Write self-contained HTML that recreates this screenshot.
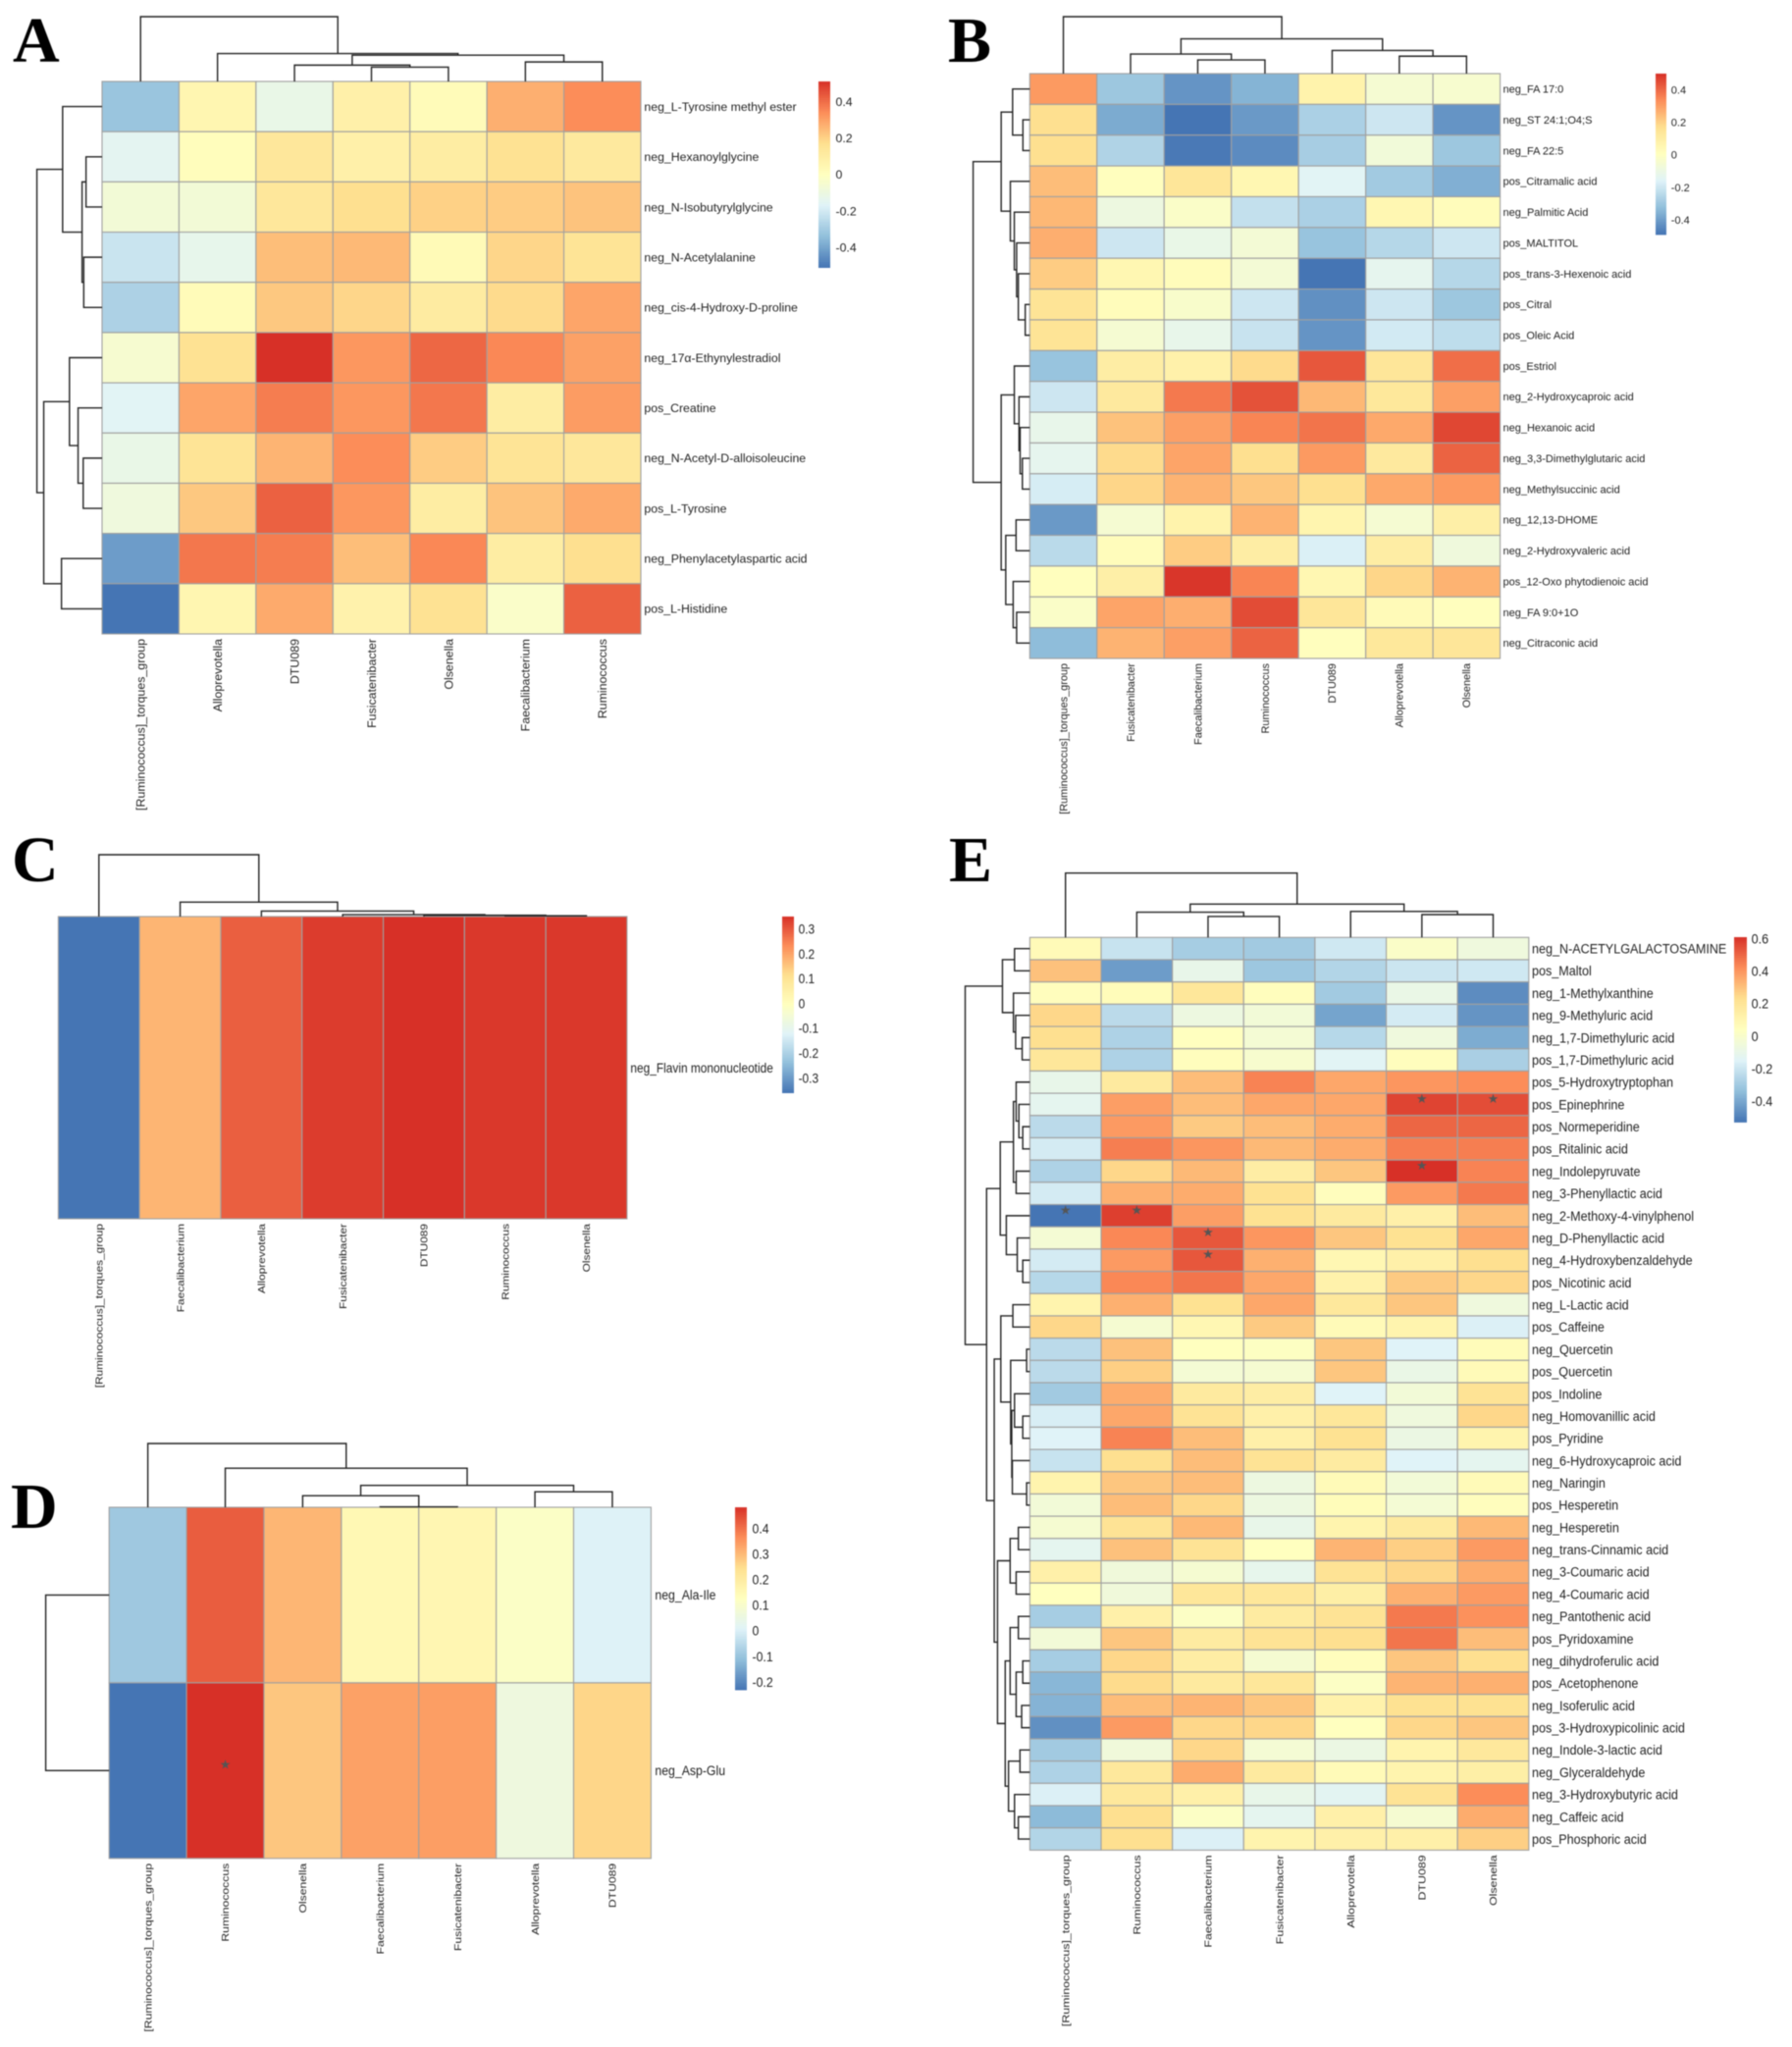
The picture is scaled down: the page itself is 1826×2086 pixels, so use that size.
<!DOCTYPE html>
<html lang="en">
<head>
<meta charset="utf-8">
<title>Clustered correlation heatmaps A-E</title>
<style>
html,body{margin:0;padding:0;background:#fff;}
svg{display:block;filter:blur(.45px);}
text{font-family:"Liberation Sans",Arial,sans-serif;fill:#222;}
.letter{font-family:"Liberation Serif","Times New Roman",serif;font-weight:bold;fill:#000;}
</style>
</head>
<body>
<svg id="figure" width="1826" height="2086" viewBox="0 0 1826 2086" xmlns="http://www.w3.org/2000/svg">
  <rect x="0" y="0" width="1826" height="2086" fill="#ffffff"/>
  <text class="letter" x="13" y="63" font-size="66">A</text>
  <text class="letter" x="966" y="63" font-size="66">B</text>
  <text class="letter" x="12" y="898" font-size="66">C</text>
  <text class="letter" x="11" y="1557" font-size="66">D</text>
  <text class="letter" x="967" y="898" font-size="66">E</text>
  <g id="panel-a"></g>
  <g id="panel-b"></g>
  <g id="panel-c"></g>
  <g id="panel-d"></g>
  <g id="panel-e"></g>
</svg>
<script>
/* ---------- Panel A data ---------- */
const aCols = ["[Ruminococcus]_torques_group","Alloprevotella","DTU089","Fusicatenibacter","Olsenella","Faecalibacterium","Ruminococcus"];
const aRows = ["neg_L-Tyrosine methyl ester","neg_Hexanoylglycine","neg_N-Isobutyrylglycine","neg_N-Acetylalanine","neg_cis-4-Hydroxy-D-proline","neg_17α-Ethynylestradiol","pos_Creatine","neg_N-Acetyl-D-alloisoleucine","pos_L-Tyrosine","neg_Phenylacetylaspartic acid","pos_L-Histidine"];
const aValues = [
  [-.32,.05,-.12,.08,.02,.27,.34],
  [-.15,.01,.13,.08,.10,.16,.12],
  [-.07,-.07,.13,.17,.20,.21,.23],
  [-.22,-.13,.24,.25,.03,.19,.15],
  [-.28,.02,.22,.19,.11,.18,.29],
  [-.05,.16,.51,.32,.41,.35,.30],
  [-.16,.29,.37,.32,.38,.10,.31],
  [-.12,.15,.26,.34,.21,.15,.13],
  [-.09,.22,.42,.32,.10,.23,.28],
  [-.42,.38,.37,.24,.35,.10,.17],
  [-.51,.05,.28,.07,.16,-.03,.42]
];
const aTicks = [.4,.2,0,-.2,-.4];
const aTickLabels = ["0.4","0.2","0","-0.2","-0.4"];
const aDomain = [-.51,.51];
const aColTree = [1,0,[.431,1,[.407,[.252,2,[.22,3,4]],[.301,5,6]]]];
const aRowTree = [1,[.605,0,[.307,[.246,1,2],[.281,3,4]]],[.895,[.5,5,[.368,6,[.289,7,8]]],[.623,9,10]]];
const aStars = [];

/* ---------- Panel B data ---------- */
const bCols = ["[Ruminococcus]_torques_group","Fusicatenibacter","Faecalibacterium","Ruminococcus","DTU089","Alloprevotella","Olsenella"];
const bRows = ["neg_FA 17:0","neg_ST 24:1;O4;S","neg_FA 22:5","pos_Citramalic acid","neg_Palmitic Acid","pos_MALTITOL","pos_trans-3-Hexenoic acid","pos_Citral","pos_Oleic Acid","pos_Estriol","neg_2-Hydroxycaproic acid","neg_Hexanoic acid","neg_3,3-Dimethylglutaric acid","neg_Methylsuccinic acid","neg_12,13-DHOME","neg_2-Hydroxyvaleric acid","pos_12-Oxo phytodienoic acid","neg_FA 9:0+1O","neg_Citraconic acid"];
const bValues = [
  [.31,-.30,-.42,-.35,.07,-.05,-.04],
  [.17,-.37,-.49,-.41,-.27,-.20,-.42],
  [.17,-.26,-.48,-.44,-.28,-.07,-.30],
  [.24,.01,.14,.05,-.15,-.29,-.36],
  [.25,-.09,-.02,-.22,-.27,.05,.02],
  [.27,-.20,-.11,-.06,-.31,-.25,-.20],
  [.21,.05,.02,-.06,-.49,-.13,-.25],
  [.15,.02,-.03,-.20,-.43,-.20,-.30],
  [.15,-.05,-.12,-.21,-.42,-.19,-.23],
  [-.31,.10,.08,.18,.43,.14,.39],
  [-.20,.12,.37,.44,.25,.13,.30],
  [-.12,.23,.30,.35,.38,.28,.46],
  [-.13,.18,.29,.17,.31,.12,.41],
  [-.18,.19,.26,.22,.17,.28,.31],
  [-.41,-.05,.07,.26,.06,-.05,.09],
  [-.24,.02,.21,.10,-.17,.10,-.08],
  [.01,.09,.49,.35,.05,.19,.26],
  [-.02,.29,.27,.45,.14,.03,.01],
  [-.33,.26,.30,.41,.01,.13,.14]
];
const bTicks = [.4,.2,0,-.2,-.4];
const bTickLabels = ["0.4","0.2","0","-0.2","-0.4"];
const bDomain = [-.49,.5];
const bColTree = [1,0,[.611,[.343,1,[.241,2,3]],[.407,4,[.306,5,6]]]];
const bRowTree = [1,[.505,[.303,0,[.121,1,2]],[.343,3,[.273,4,[.232,5,[.202,6,[.08,7,8]]]]]],[.505,[.273,9,[.19,10,[.17,11,[.13,12,13]]]],[.424,[.242,14,15],[.293,16,[.232,17,18]]]]];
const bStars = [];

/* ---------- Panel C data ---------- */
const cCols = ["[Ruminococcus]_torques_group","Faecalibacterium","Alloprevotella","Fusicatenibacter","DTU089","Ruminococcus","Olsenella"];
const cRows = ["neg_Flavin mononucleotide"];
const cValues = [
  [-.36,.175,.29,.335,.35,.34,.34]
];
const cTicks = [.3,.2,.1,0,-.1,-.2,-.3];
const cTickLabels = ["0.3","0.2","0.1","0","-0.1","-0.2","-0.3"];
const cDomain = [-.36,.35];
const cColTree = [1,0,[.233,1,[.088,2,[.03,3,[.02,4,[.012,5,6]]]]]];
const cRowTree = null;
const cStars = [];

/* ---------- Panel D data ---------- */
const dCols = ["[Ruminococcus]_torques_group","Ruminococcus","Olsenella","Faecalibacterium","Fusicatenibacter","Alloprevotella","DTU089"];
const dRows = ["neg_Ala-Ile","neg_Asp-Glu"];
const dValues = [
  [-.09,.425,.305,.155,.16,.112,.005],
  [-.23,.483,.283,.335,.34,.062,.26]
];
const dTicks = [.4,.3,.2,.1,0,-.1,-.2];
const dTickLabels = ["0.4","0.3","0.2","0.1","0","-0.1","-0.2"];
const dDomain = [-.23,.483];
const dColTree = [1,0,[.6125,1,[.344,[.181,2,[.006,3,4]],[.244,5,6]]]];
const dRowTree = [1,0,1];
const dStars = [[1,1]];

/* ---------- Panel E data ---------- */
const eCols = ["[Ruminococcus]_torques_group","Ruminococcus","Faecalibacterium","Fusicatenibacter","Alloprevotella","DTU089","Olsenella"];
const eRows = ["neg_N-ACETYLGALACTOSAMINE","pos_Maltol","neg_1-Methylxanthine","neg_9-Methyluric acid","neg_1,7-Dimethyluric acid","pos_1,7-Dimethyluric acid","pos_5-Hydroxytryptophan","pos_Epinephrine","pos_Normeperidine","pos_Ritalinic acid","neg_Indolepyruvate","neg_3-Phenyllactic acid","neg_2-Methoxy-4-vinylphenol","neg_D-Phenyllactic acid","neg_4-Hydroxybenzaldehyde","pos_Nicotinic acid","neg_L-Lactic acid","pos_Caffeine","neg_Quercetin","pos_Quercetin","pos_Indoline","neg_Homovanillic acid","pos_Pyridine","neg_6-Hydroxycaproic acid","neg_Naringin","pos_Hesperetin","neg_Hesperetin","neg_trans-Cinnamic acid","neg_3-Coumaric acid","neg_4-Coumaric acid","neg_Pantothenic acid","pos_Pyridoxamine","neg_dihydroferulic acid","pos_Acetophenone","neg_Isoferulic acid","pos_3-Hydroxypicolinic acid","neg_Indole-3-lactic acid","neg_Glyceraldehyde","neg_3-Hydroxybutyric acid","neg_Caffeic acid","pos_Phosphoric acid"];
const eValues = [
  [.07,-.21,-.29,-.30,-.19,.01,-.06],
  [.30,-.43,-.10,-.31,-.26,-.20,-.19],
  [.05,.06,.19,.05,-.30,-.09,-.47],
  [.25,-.24,-.07,-.04,-.41,-.18,-.45],
  [.23,-.27,.04,-.03,-.25,-.06,-.39],
  [.19,-.27,.05,-.01,-.14,.05,-.28],
  [-.10,.17,.31,.44,.36,.40,.42],
  [-.12,.38,.31,.36,.36,.57,.55],
  [-.24,.39,.28,.31,.35,.50,.50],
  [-.18,.45,.40,.32,.35,.45,.45],
  [-.27,.25,.32,.15,.29,.61,.44],
  [-.18,.34,.35,.22,.05,.39,.46],
  [-.53,.58,.38,.22,.17,.13,.31],
  [-.03,.43,.53,.40,.29,.22,.36],
  [-.18,.39,.53,.34,.09,.13,.23],
  [-.25,.43,.47,.36,.12,.28,.25],
  [.11,.34,.22,.36,.18,.29,-.06],
  [.25,-.02,.09,.28,.07,.11,-.16],
  [-.24,.30,.04,.03,.29,-.15,.06],
  [-.24,.27,-.03,-.02,.29,-.09,.07],
  [-.30,.35,.17,.15,-.15,-.04,.21],
  [-.17,.36,.21,.13,.19,-.06,.25],
  [-.15,.44,.31,.13,.22,-.08,.11],
  [-.21,.23,.31,.21,.16,-.15,-.12],
  [.11,.29,.31,-.07,.07,-.04,.07],
  [-.04,.31,.25,-.07,.06,-.03,.05],
  [-.02,.21,.32,-.10,.11,.17,.32],
  [-.12,.30,.21,.04,.33,.27,.39],
  [.13,-.05,-.02,-.11,.21,.25,.35],
  [.04,-.05,.19,.19,.14,.34,.39],
  [-.29,.13,.02,.16,.21,.46,.41],
  [-.04,.29,.16,.21,.23,.47,.31],
  [-.29,.25,.15,-.02,.05,.29,.23],
  [-.36,.24,.17,.19,.02,.33,.34],
  [-.37,.31,.33,.29,.12,.22,.22],
  [-.46,.39,.25,.25,.04,.25,.29],
  [-.30,-.05,.25,-.03,-.08,.11,.18],
  [-.27,.18,.35,.17,.07,.11,.14],
  [-.16,.18,.13,-.10,-.13,.21,.42],
  [-.35,.23,.02,-.12,.13,-.02,.35],
  [-.26,.23,-.16,.11,.13,.13,.27]
];
const eTicks = [.6,.4,.2,0,-.2,-.4];
const eTickLabels = ["0.6","0.4","0.2","0","-0.2","-0.4"];
const eDomain = [-.53,.61];
const eColTree = [1,0,[.518,[.392,1,[.325,2,3]],[.404,4,[.355,5,6]]]];
const eRowTree = [1,
  [.424,[.237,0,1],[.254,2,[.22,3,[.119,4,5]]]],
  [.669,
    [.458,
      [.254,[.212,6,[.17,7,[.11,8,9]]],[.212,10,11]],
      [.364,12,[.195,13,[.11,14,15]]]],
    [.551,
      [.449,[.263,16,17],[.297,[.05,18,19],[.28,[.237,20,[.11,21,22]],[.271,23,[.05,24,25]]]]],
      [.5,
        [.305,[.178,26,27],[.212,28,29]],
        [.381,
          [.305,[.178,30,31],[.212,[.11,32,33],[.127,34,35]]],
          [.33,[.153,36,37],[.237,38,[.178,39,40]]]]]]]];
const eStars = [[12,0],[12,1],[7,5],[7,6],[10,5],[13,2],[14,2]];

/* ---------- Shared colour ramp (RdYlBu, reversed) ---------- */
const paletteStops = ["#4575B4","#91BFDB","#E0F3F8","#FFFFBF","#FEE090","#FC8D59","#D73027"];

const SVGNS = "http://www.w3.org/2000/svg";
function hexToRgb(h){return [parseInt(h.slice(1,3),16),parseInt(h.slice(3,5),16),parseInt(h.slice(5,7),16)];}
function ramp(p){
  p = Math.max(0,Math.min(1,p));
  const n = paletteStops.length-1, i = Math.min(n-1,Math.floor(p*n)), t = p*n-i;
  const a = hexToRgb(paletteStops[i]), b = hexToRgb(paletteStops[i+1]);
  return "rgb("+a.map((v,k)=>Math.round(v+(b[k]-v)*t)).join(",")+")";
}
function node(tag,parent,attrs){
  const el = document.createElementNS(SVGNS,tag);
  for(const k in attrs){el.setAttribute(k,attrs[k]);}
  parent.appendChild(el);
  return el;
}

function drawPanel(cfg){
  const g = document.getElementById(cfg.id);
  const nr = cfg.rows.length, nc = cfg.cols.length;
  const xAxis = c => cfg.x0 + (cfg.x1-cfg.x0)*c/nc;
  const yAxis = r => cfg.y0 + (cfg.y1-cfg.y0)*r/nr;
  const colorOf = v => ramp((v-cfg.domain[0])/(cfg.domain[1]-cfg.domain[0]));

  /* cells */
  cfg.values.forEach((row,r)=>{
    row.forEach((v,c)=>{
      const cell = node("rect",g,{x:xAxis(c),y:yAxis(r),width:xAxis(c+1)-xAxis(c),height:yAxis(r+1)-yAxis(r),fill:colorOf(v),stroke:"#a0a0a0","stroke-width":1.1});
      
      
    });
  });

  /* significance stars */
  cfg.stars.forEach(s=>{
    const star = node("text",g,{x:(xAxis(s[1])+xAxis(s[1]+1))/2,y:(yAxis(s[0])+yAxis(s[0]+1))/2-cfg.starOffset,"text-anchor":"middle","font-size":13,style:"font-family:'DejaVu Sans',sans-serif;fill:#555"});
    star.textContent = "★";
    
    
  });

  /* row labels */
  cfg.rows.forEach((label,r)=>{
    const yc = (yAxis(r)+yAxis(r+1))/2;
    const t = node("text",g,{transform:"translate("+cfg.rowLabelX+","+yc+") scale("+cfg.rowFont.sx+",1)",dy:"0.35em","font-size":cfg.rowFont.size});
    t.textContent = label;
    
    
  });

  /* column labels */
  cfg.cols.forEach((label,c)=>{
    const xc = (xAxis(c)+xAxis(c+1))/2;
    const t = node("text",g,{transform:"translate("+xc+","+(cfg.y1+cfg.colGap)+") rotate(-90) scale("+cfg.colFont.sx+",1)",dy:"0.35em","text-anchor":"end","font-size":cfg.colFont.size});
    t.textContent = label;
    
    
  });

  /* dendrograms */
  function drawTree(tree,pos,horizontal){
    function walk(n){
      if(typeof n === "number"){return {p:pos(n),h:0};}
      const a = walk(n[1]), b = walk(n[2]), h = n[0];
      const d = horizontal
        ? "M"+pos.base(a.h)+" "+a.p+"H"+pos.base(h)+"V"+b.p+"H"+pos.base(b.h)
        : "M"+a.p+" "+pos.base(a.h)+"V"+pos.base(h)+"H"+b.p+"V"+pos.base(b.h);
      const line = node("path",g,{d:d,fill:"none",stroke:"#222","stroke-width":1.4});
      
      
      return {p:(a.p+b.p)/2,h:h};
    }
    walk(tree);
  }
  if(cfg.colTree){
    const pos = c => (xAxis(c)+xAxis(c+1))/2;
    pos.base = h => cfg.y0 - h*cfg.colTreeSize;
    drawTree(cfg.colTree,pos,false);
  }
  if(cfg.rowTree){
    const pos = r => (yAxis(r)+yAxis(r+1))/2;
    pos.base = h => cfg.x0 - h*cfg.rowTreeSize;
    drawTree(cfg.rowTree,pos,true);
  }

  /* colour legend */
  const L = cfg.legend, steps = 100;
  const legY = v => L.y0 + (cfg.domain[1]-v)/(cfg.domain[1]-cfg.domain[0])*(L.y1-L.y0);
  for(let i=0;i<steps;i++){
    const vTop = cfg.domain[1]-(cfg.domain[1]-cfg.domain[0])*i/steps;
    const vBot = cfg.domain[1]-(cfg.domain[1]-cfg.domain[0])*(i+1)/steps;
    const seg = node("rect",g,{x:L.x0,y:legY(vTop),width:L.x1-L.x0,height:legY(vBot)-legY(vTop)+.4,fill:colorOf((vTop+vBot)/2)});
    
    
  }
  cfg.ticks.forEach((v,i)=>{
    const t = node("text",g,{transform:"translate("+L.labelX+","+legY(v)+") scale("+cfg.rowFont.sx+",1)",dy:"0.35em","font-size":cfg.rowFont.size});
    t.textContent = cfg.tickLabels[i];
    
    
  });
}

drawPanel({id:"panel-a",rows:aRows,cols:aCols,values:aValues,domain:aDomain,ticks:aTicks,tickLabels:aTickLabels,colTree:aColTree,rowTree:aRowTree,stars:aStars,starOffset:5,
  x0:104,x1:653,y0:83,y1:646,rowLabelX:656.4,colGap:5,colTreeSize:66,rowTreeSize:66.4,
  rowFont:{size:12.3,sx:1},colFont:{size:12.4,sx:1},legend:{x0:834,x1:846,y0:83,y1:272.6,labelX:851.5}});
drawPanel({id:"panel-b",rows:bRows,cols:bCols,values:bValues,domain:bDomain,ticks:bTicks,tickLabels:bTickLabels,colTree:bColTree,rowTree:bRowTree,stars:bStars,starOffset:5,
  x0:1049.3,x1:1528.6,y0:75,y1:671,rowLabelX:1531.5,colGap:5,colTreeSize:58,rowTreeSize:57.7,
  rowFont:{size:11,sx:1},colFont:{size:10.9,sx:1},legend:{x0:1687,x1:1698,y0:75,y1:239,labelX:1702.8}});
drawPanel({id:"panel-c",rows:cRows,cols:cCols,values:cValues,domain:cDomain,ticks:cTicks,tickLabels:cTickLabels,colTree:cColTree,rowTree:cRowTree,stars:cStars,starOffset:5,
  x0:59.4,x1:638.9,y0:934,y1:1242,rowLabelX:642.4,colGap:5,colTreeSize:63,rowTreeSize:0,
  rowFont:{size:14,sx:.85},colFont:{size:10.5,sx:1.13},legend:{x0:797,x1:809,y0:934,y1:1113.6,labelX:813.6}});
drawPanel({id:"panel-d",rows:dRows,cols:dCols,values:dValues,domain:dDomain,ticks:dTicks,tickLabels:dTickLabels,colTree:dColTree,rowTree:dRowTree,stars:dStars,starOffset:2,
  x0:111.2,x1:663.4,y0:1536,y1:1893.8,rowLabelX:667.4,colGap:5,colTreeSize:65,rowTreeSize:64.6,
  rowFont:{size:13.5,sx:.91},colFont:{size:10.5,sx:1.16},legend:{x0:749,x1:761,y0:1536,y1:1722,labelX:766.5}});
drawPanel({id:"panel-e",rows:eRows,cols:eCols,values:eValues,domain:eDomain,ticks:eTicks,tickLabels:eTickLabels,colTree:eColTree,rowTree:eRowTree,stars:eStars,starOffset:1.5,
  x0:1049.4,x1:1557.8,y0:955.3,y1:1885.4,rowLabelX:1561,colGap:5,colTreeSize:65.6,rowTreeSize:65.9,
  rowFont:{size:14,sx:.9},colFont:{size:10.5,sx:1.18},legend:{x0:1767,x1:1780,y0:955,y1:1143.5,labelX:1784.6}});
</script>
</body>
</html>
